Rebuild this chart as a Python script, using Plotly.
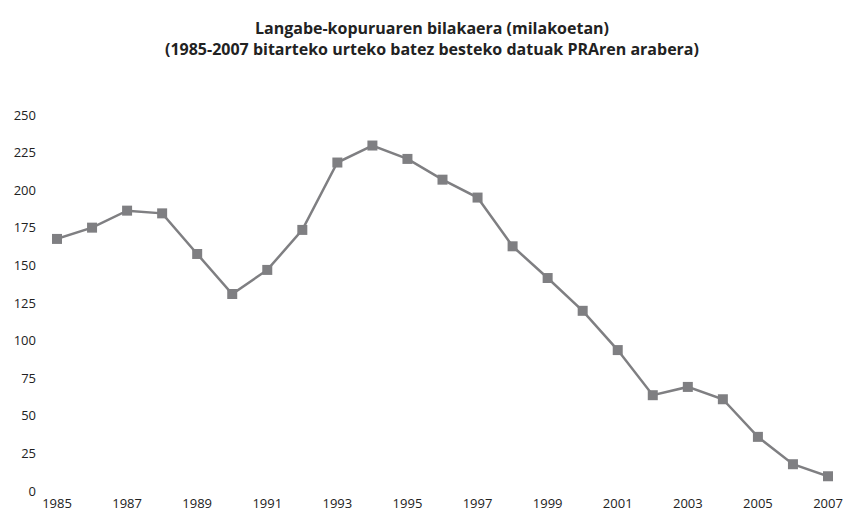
import plotly.graph_objects as go

years = list(range(1985, 2008))
unemployed = [167.6, 175.1, 186.4, 184.6, 157.6, 131.0, 147.0, 173.6, 218.4, 229.7,
              220.8, 207.0, 195.1, 162.7, 141.6, 119.8, 93.7, 63.7, 69.2, 61.0,
              36.0, 17.8, 9.8]
x_ticks = list(range(1985, 2008, 2))
y_ticks = list(range(0, 251, 25))

title_text = ("Langabe-kopuruaren bilakaera (milakoetan)<br>"
              "(1985-2007 bitarteko urteko batez besteko datuak PRAren arabera)")

fig = go.Figure()
fig.add_trace(go.Scatter(
    x=years, y=unemployed, mode="lines+markers",
    line=dict(color="#7f7f82", width=2.5),
    marker=dict(symbol="square", size=10, color="#7f7f82"),
    cliponaxis=False, showlegend=False,
))

fig.update_layout(
    width=847, height=512,
    margin=dict(l=57, r=19, t=115, b=21, pad=0),
    paper_bgcolor="white", plot_bgcolor="white",
    font=dict(family="Open Sans", size=13, color="#222222"),
    title=dict(text=title_text, x=0.510, xanchor="center", y=0.9338, yanchor="top",
               font=dict(family="Open Sans", size=16, color="#222222", weight="bold")),
)
fig.update_xaxes(range=[1985, 2007], tickvals=x_ticks, ticktext=[str(v) for v in x_ticks],
                 showgrid=False, zeroline=False, showline=False, ticks="",
                 automargin=False, ticklabelstandoff=3, tickfont=dict(size=13))
fig.update_yaxes(range=[0, 250], tickvals=y_ticks, ticktext=[str(v) for v in y_ticks],
                 showgrid=False, zeroline=False, showline=False, ticks="",
                 automargin=False, ticklabelstandoff=20, tickfont=dict(size=13))

# remove the browser's default 8px body margin so the figure fills the window exactly
fig.write_html("out.html", config={"displayModeBar": False},
               post_script="document.body.style.margin='0';document.body.style.overflow='hidden';")
